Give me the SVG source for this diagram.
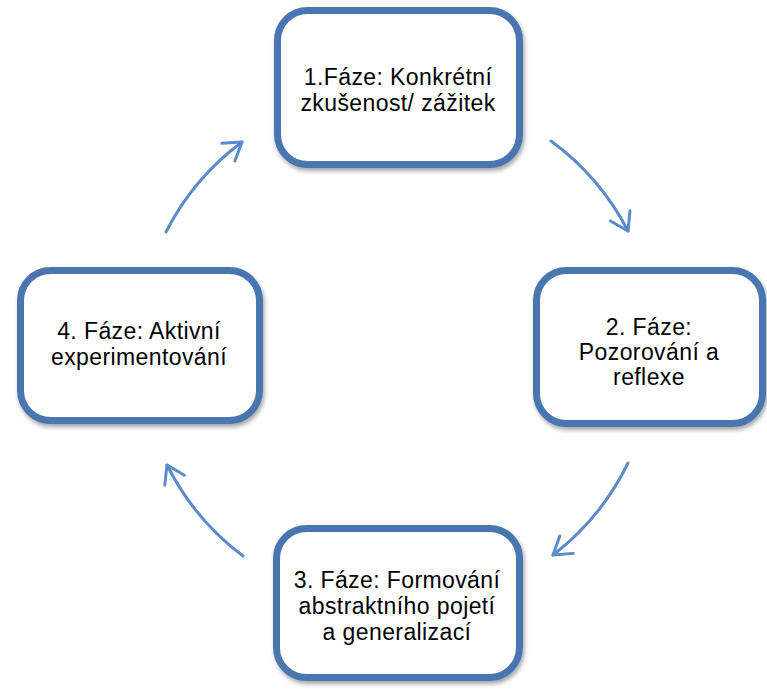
<svg xmlns="http://www.w3.org/2000/svg" width="767" height="689" viewBox="0 0 767 689">
  <style>
    .box { fill: #ffffff; stroke: #4a76af; stroke-width: 7; filter: url(#shadow); }
    .lbl { font-family: "Liberation Sans", Arial, sans-serif; font-size: 23px; letter-spacing: 0.4px; fill: #000000; text-anchor: middle; }
    .arc { fill: none; stroke: #5b8bcb; stroke-width: 3; stroke-linecap: round; marker-end: url(#head); }
  </style>
  <defs>
    <filter id="shadow" x="-10%" y="-10%" width="125%" height="130%">
      <feDropShadow dx="1.5" dy="3" stdDeviation="2" flood-color="#000000" flood-opacity="0.35"/>
    </filter>
    <marker id="head" markerUnits="userSpaceOnUse" markerWidth="30" markerHeight="30" refX="0" refY="0" viewBox="-20 -15 24 30" orient="auto">
      <path d="M-17,-11 L0,0 L-17,11" fill="none" stroke="#5b8bcb" stroke-width="3" stroke-linecap="round" stroke-linejoin="round"/>
    </marker>
  </defs>
  <rect width="767" height="689" fill="#ffffff"/>

  <!-- curved arrows running clockwise around the cycle -->
  <g id="connectors">
    <path class="arc" d="M551,141 A258,258 0 0 1 628,231"/>
    <path class="arc" d="M628,463 A258,258 0 0 1 553,555"/>
    <path class="arc" d="M243,556 A258,258 0 0 1 167,465"/>
    <path class="arc" d="M166,232 A258,258 0 0 1 242,142"/>
  </g>

  <g id="phase1">
    <rect class="box" x="277.5" y="10.5" width="242" height="154" rx="30"/>
    <text class="lbl" x="398" y="85">1.Fáze: Konkrétní</text>
    <text class="lbl" x="398" y="111">zkušenost/ zážitek</text>
  </g>

  <g id="phase2">
    <rect class="box" x="536.5" y="270.5" width="226" height="153" rx="30"/>
    <text class="lbl" x="649" y="335">2. Fáze:</text>
    <text class="lbl" x="649" y="360">Pozorování a</text>
    <text class="lbl" x="649" y="385">reflexe</text>
  </g>

  <g id="phase3">
    <rect class="box" x="276.5" y="528.5" width="243" height="149" rx="30"/>
    <text class="lbl" x="397" y="588">3. Fáze: Formování</text>
    <text class="lbl" x="397" y="614">abstraktního pojetí</text>
    <text class="lbl" x="397" y="640">a generalizací</text>
  </g>

  <g id="phase4">
    <rect class="box" x="20.5" y="270.5" width="239" height="150" rx="30"/>
    <text class="lbl" x="139" y="339">4. Fáze: Aktivní</text>
    <text class="lbl" x="139" y="365">experimentování</text>
  </g>
</svg>
